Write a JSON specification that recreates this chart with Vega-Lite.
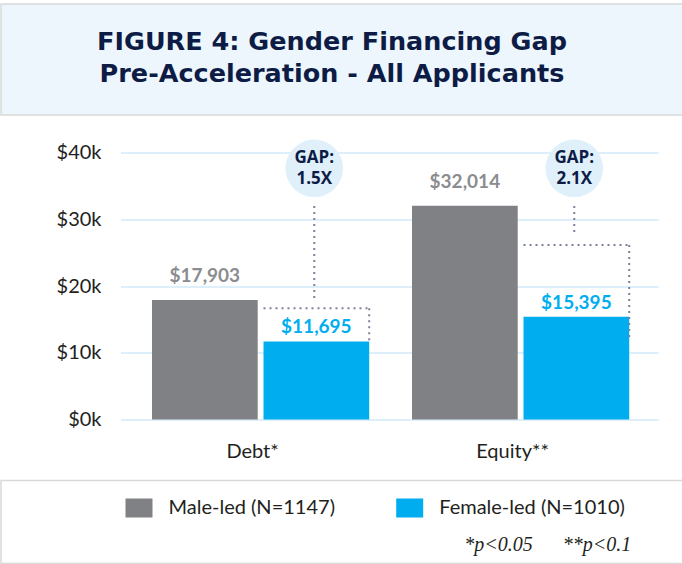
{
  "$schema": "https://vega.github.io/schema/vega-lite/v6.json",
  "padding": {"top": 3, "left": 0, "right": 0, "bottom": 0},
  "background": "white",
  "config": {"view": {"stroke": null}, "font": "Lato"},
  "datasets": {
    "bars": [
      {"category": "Debt*", "group": "Male", "value": 17903},
      {"category": "Debt*", "group": "Female", "value": 11695},
      {"category": "Equity**", "group": "Male", "value": 32014},
      {"category": "Equity**", "group": "Female", "value": 15395}
    ],
    "gaps": [
      {"category": "Debt*", "label": "GAP:\n1.5X", "bubble": 37630, "stemTop": 32000, "stemBottom": 17640, "level": 16650, "levelBottom": 11790},
      {"category": "Equity**", "label": "GAP:\n2.1X", "bubble": 37630, "stemTop": 32000, "stemBottom": 27650, "level": 26150, "levelBottom": 11900}
    ],
    "legend": [
      {"item": "Male-led (N=1147)", "group": "Male", "row": "legend"},
      {"item": "Female-led (N=1010)", "group": "Female", "row": "legend"},
      {"item": "*p<0.05\u00a0\u00a0\u00a0\u00a0\u00a0\u00a0**p<0.1", "group": "Female", "row": "note"}
    ]
  },
  "spacing": 23.5,
  "vconcat": [
    {
      "width": 682,
      "height": 111,
      "view": {"fill": "#EEF6FD", "stroke": "#D9D9D9", "strokeWidth": 1.5},
      "data": {"values": [{"figure": 4}]},
      "mark": {
        "type": "text",
        "text": ["FIGURE 4: Gender Financing Gap", "Pre-Acceleration - All Applicants"],
        "font": "DejaVu Sans",
        "fontSize": 25.5,
        "fontWeight": "bold",
        "color": "#0D1C45",
        "lineHeight": 32,
        "align": "center",
        "baseline": "middle",
        "dx": -10,
        "dy": -18
      },
      "encoding": {}
    },
    {
      "spacing": 18,
      "vconcat": [
        {
          "width": 682,
          "height": 267,
          "layer": [
            {
              "data": {"name": "bars"},
              "mark": {"type": "bar"},
              "encoding": {
                "x": {
                  "field": "category", "type": "nominal", "title": null,
                  "scale": {"type": "band", "domain": ["Debt*", "Equity**"], "range": [119.5, 657.3], "paddingInner": 0.1646, "paddingOuter": 0.1165, "align": 0.52},
                  "axis": {"labelFont": "Lato", "labelFontSize": 20, "labelColor": "#231F20", "labelPadding": 22, "ticks": false, "domain": false, "labelAngle": 0, "labelOffset": -8, "grid": false}
                },
                "xOffset": {"field": "group", "type": "nominal", "scale": {"domain": ["Male", "Female"], "paddingInner": 0.052, "paddingOuter": 0}},
                "y": {
                  "field": "value", "type": "quantitative", "title": null,
                  "scale": {"domain": [0, 40000], "nice": false},
                  "axis": {"values": [0, 10000, 20000, 30000, 40000], "labelExpr": "'$' + (datum.value / 1000) + 'k'", "offset": -120, "labelPadding": 20, "ticks": false, "domain": false, "grid": true, "gridColor": "#DCEFFB", "gridWidth": 2, "labelFont": "Lato", "labelFontSize": 20, "labelColor": "#231F20"}
                },
                "color": {"field": "group", "type": "nominal", "scale": {"domain": ["Male", "Female"], "range": ["#808184", "#00AEEF"]}, "legend": null}
              }
            },
            {
              "data": {"name": "bars"},
              "transform": [{"filter": "datum.group === 'Male'"}],
              "mark": {"type": "text", "font": "Lato", "fontSize": 19, "fontWeight": "bold", "baseline": "middle", "dy": -24, "color": "#8B8C8F"},
              "encoding": {
                "x": {"field": "category", "type": "nominal", "title": null},
                "xOffset": {"field": "group", "type": "nominal"},
                "y": {"field": "value", "type": "quantitative", "title": null},
                "text": {"field": "value", "type": "quantitative", "format": "$,.0f"}
              }
            },
            {
              "data": {"name": "bars"},
              "transform": [{"filter": "datum.group === 'Female'"}],
              "mark": {"type": "text", "font": "Lato", "fontSize": 19, "fontWeight": "bold", "baseline": "middle", "dy": -14, "color": "#00AEEF"},
              "encoding": {
                "x": {"field": "category", "type": "nominal", "title": null},
                "xOffset": {"field": "group", "type": "nominal"},
                "y": {"field": "value", "type": "quantitative", "title": null},
                "text": {"field": "value", "type": "quantitative", "format": "$,.0f"}
              }
            },
            {
              "data": {"name": "gaps"},
              "mark": {"type": "circle", "size": 3318, "color": "#DFF0FB", "opacity": 1},
              "encoding": {
                "x": {"field": "category", "type": "nominal", "bandPosition": 0.747, "title": null},
                "y": {"field": "bubble", "type": "quantitative", "title": null}
              }
            },
            {
              "data": {"name": "gaps"},
              "mark": {"type": "text", "font": "Open Sans", "fontSize": 17, "fontWeight": "bold", "color": "#0D1C45", "lineBreak": "\n", "lineHeight": 21, "baseline": "middle", "align": "center", "dy": -10.5},
              "encoding": {
                "x": {"field": "category", "type": "nominal", "bandPosition": 0.747, "title": null},
                "y": {"field": "bubble", "type": "quantitative", "title": null},
                "text": {"field": "label", "type": "nominal"}
              }
            },
            {
              "data": {"name": "gaps"},
              "mark": {"type": "rule", "color": "#7D8199", "strokeWidth": 2, "strokeDash": [2, 4]},
              "encoding": {
                "x": {"field": "category", "type": "nominal", "bandPosition": 0.747, "title": null},
                "y": {"field": "stemTop", "type": "quantitative", "title": null},
                "y2": {"field": "stemBottom"}
              }
            },
            {
              "data": {"name": "gaps"},
              "mark": {"type": "rule", "color": "#7D8199", "strokeWidth": 2, "strokeDash": [2, 4]},
              "encoding": {
                "x": {"field": "category", "type": "nominal", "bandPosition": 0.5133, "title": null},
                "x2": {"field": "category", "bandPosition": 1},
                "y": {"field": "level", "type": "quantitative", "title": null}
              }
            },
            {
              "data": {"name": "gaps"},
              "mark": {"type": "rule", "color": "#7D8199", "strokeWidth": 2, "strokeDash": [2, 4]},
              "encoding": {
                "x": {"field": "category", "type": "nominal", "bandPosition": 1, "title": null},
                "y": {"field": "level", "type": "quantitative", "title": null},
                "y2": {"field": "levelBottom"}
              }
            }
          ]
        },
        {
          "width": 682,
          "height": 83,
          "view": {"stroke": "#D9D9D9", "strokeWidth": 1.5},
          "data": {"name": "legend"},
          "layer": [
            {
              "transform": [{"filter": "datum.row === 'legend'"}],
              "mark": {"type": "point", "shape": "M-1.35,-0.95H1.35V0.95H-1.35Z", "size": 400, "filled": true, "opacity": 1},
              "encoding": {
                "x": {"field": "group", "type": "nominal", "scale": {"type": "point", "domain": ["Male", "Female"], "range": [138, 408.7], "padding": 0}, "axis": null},
                "y": {"field": "row", "type": "nominal", "scale": {"type": "point", "domain": ["legend", "note"], "range": [27.5, 64], "padding": 0}, "axis": null},
                "color": {"field": "group", "type": "nominal", "scale": {"domain": ["Male", "Female"], "range": ["#808184", "#00AEEF"]}, "legend": null}
              }
            },
            {
              "transform": [{"filter": "datum.row === 'legend'"}],
              "mark": {"type": "text", "align": "left", "dx": 29.5, "font": "Lato", "fontSize": 20, "color": "#231F20", "baseline": "middle"},
              "encoding": {
                "x": {"field": "group", "type": "nominal", "axis": null},
                "y": {"field": "row", "type": "nominal", "axis": null},
                "text": {"field": "item", "type": "nominal"}
              }
            },
            {
              "transform": [{"filter": "datum.row === 'note'"}],
              "mark": {"type": "text", "align": "right", "dx": 221.5, "font": "Liberation Serif", "fontStyle": "italic", "fontSize": 20, "color": "#231F20", "baseline": "middle"},
              "encoding": {
                "x": {"field": "group", "type": "nominal", "axis": null},
                "y": {"field": "row", "type": "nominal", "axis": null},
                "text": {"field": "item", "type": "nominal"}
              }
            }
          ]
        }
      ]
    }
  ]
}
